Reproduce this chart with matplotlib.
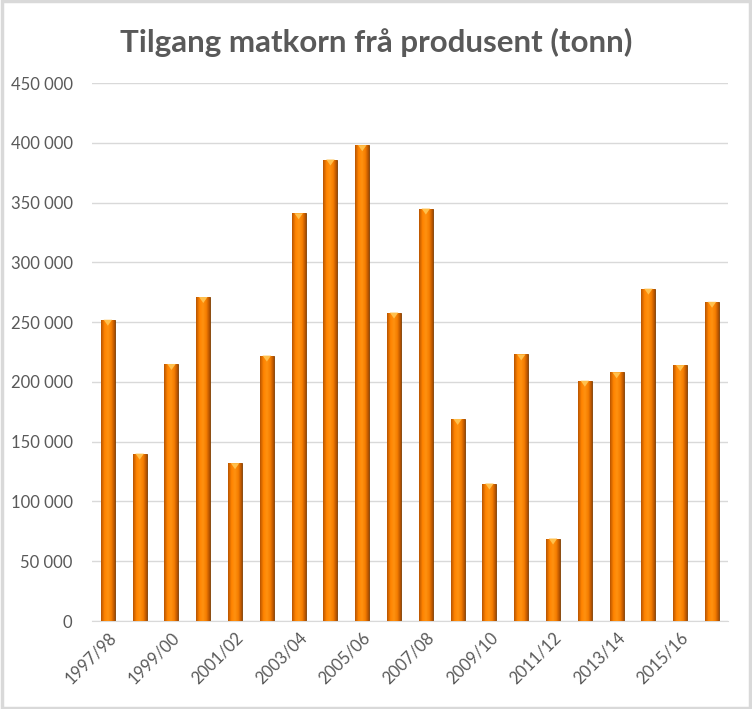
import matplotlib.pyplot as plt
import matplotlib.patches as mpatches
from matplotlib.colors import LinearSegmentedColormap
import numpy as np

# Data
seasons = ['1997/98', '1998/99', '1999/00', '2000/01', '2001/02', '2002/03',
           '2003/04', '2004/05', '2005/06', '2006/07', '2007/08', '2008/09',
           '2009/10', '2010/11', '2011/12', '2012/13', '2013/14', '2014/15',
           '2015/16', '2016/17']
tonnes = [252000, 140000, 215000, 271000, 132000, 222000, 341000, 386000,
          398000, 258000, 345000, 169000, 115000, 223000, 69000, 201000,
          208000, 278000, 214000, 267000]

text_col = '#595959'
plt.rcParams['font.family'] = ['Lato', 'DejaVu Sans']

fig = plt.figure(figsize=(7.52, 7.09), dpi=100)
ax = fig.add_axes([0.1223, 0.1241, 0.8457, 0.7588])

# frame round the whole chart
fig.patches.append(mpatches.Rectangle((0.002, 0.002), 0.996, 0.996, transform=fig.transFigure,
                                      fill=False, edgecolor='#D9D9D9', linewidth=2.5))

x = np.arange(len(seasons))
bars = ax.bar(x, tonnes, width=0.44, color='#F58200', edgecolor='#7A3A00', linewidth=0.6, zorder=2)

# cylinder-like shading across each bar
shade = LinearSegmentedColormap.from_list('shade', ['#B85400', '#FF8400', '#FF9210', '#F57C00', '#A94C00'])
grad = np.linspace(0, 1, 64).reshape(1, -1)
for b in bars:
    x0, w, h = b.get_x(), b.get_width(), b.get_height()
    im = ax.imshow(grad, cmap=shade, aspect='auto', extent=(x0, x0 + w, 0, h), zorder=3)
    im.set_clip_path(b)
    # small light cap on top
    tri = mpatches.Polygon([(x0 + w * 0.2, h), (x0 + w * 0.8, h), (x0 + w * 0.5, h - 5000)],
                           closed=True, facecolor='#FFC04D', edgecolor='none', zorder=4)
    ax.add_patch(tri)

ax.set_xlim(-0.5, len(seasons) - 0.5)
ax.set_ylim(0, 450000)
ax.set_yticks(np.arange(0, 450001, 50000))
ax.set_yticklabels(['0' if v == 0 else f'{v:,}'.replace(',', ' ') for v in range(0, 450001, 50000)])
ax.set_xticks(x[::2])
ax.set_xticklabels(seasons[::2], rotation=45, ha='right', rotation_mode='anchor')
ax.tick_params(axis='both', length=0, colors=text_col, labelsize=12)
ax.tick_params(axis='y', pad=14)
ax.tick_params(axis='x', pad=6)

ax.grid(axis='y', color='#D9D9D9', linewidth=1, zorder=0)
ax.set_axisbelow(True)
for s in ['top', 'right', 'left']:
    ax.spines[s].set_visible(False)
ax.spines['bottom'].set_color('#D9D9D9')

fig.text(0.5, 0.94, 'Tilgang matkorn frå produsent (tonn)', ha='center', va='center',
         fontsize=22.5, fontweight='bold', color=text_col)

fig.savefig('out.png', dpi=100)
